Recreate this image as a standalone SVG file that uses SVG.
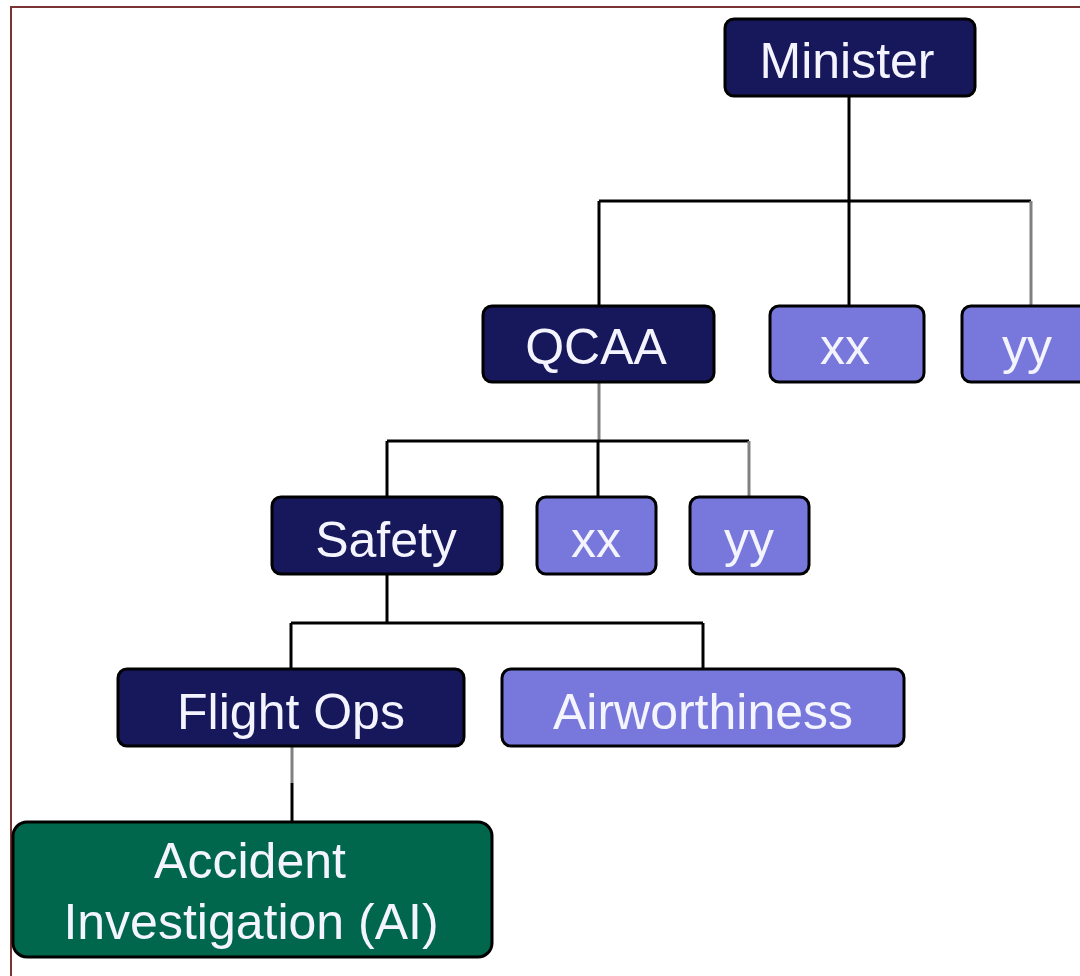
<svg xmlns="http://www.w3.org/2000/svg" width="1080" height="976" viewBox="0 0 1080 976">
  <style>
    .box { stroke: #000; stroke-width: 3; }
    .dark { fill: #17175b; }
    .light { fill: #7878dc; }
    .green { fill: #00674c; }
    .lbl { font-family: "Liberation Sans", Arial, sans-serif; font-size: 50px; fill: #f4f4ff; text-anchor: middle; }
    .wire { stroke: #000; stroke-width: 3; fill: none; }
    .grey { stroke: #808080; stroke-width: 3; fill: none; }
  </style>
  <rect width="1080" height="976" fill="#fff"/>
  <!-- outer frame -->
  <path d="M11 976 V7 H1080" fill="none" stroke="#7a3434" stroke-width="2"/>

  <g id="connectors">
    <path class="wire" d="M849 96 V201 M599 201 H1031 M599 201 V306 M849 201 V306"/>
    <path class="grey" d="M1031 201 V306"/>
    <path class="grey" d="M599 382 V441"/>
    <path class="wire" d="M387 441 H749 M387 441 V497 M598 441 V497"/>
    <path class="grey" d="M749 441 V497"/>
    <path class="wire" d="M387 574 V623 M291 623 H703 M291 623 V669 M703 623 V669"/>
    <path class="grey" d="M292 746 V783"/>
    <path class="wire" d="M292 783 V822"/>
  </g>

  <g id="minister">
    <rect class="box dark" x="725" y="19" width="250" height="77" rx="9"/>
    <text class="lbl" x="847" y="78">Minister</text>
  </g>
  <g id="qcaa">
    <rect class="box dark" x="483" y="306" width="231" height="76" rx="9"/>
    <text class="lbl" x="596" y="364">QCAA</text>
  </g>
  <g id="xx1">
    <rect class="box light" x="770" y="306" width="154" height="76" rx="9"/>
    <text class="lbl" x="845" y="364">xx</text>
  </g>
  <g id="yy1">
    <rect class="box light" x="962" y="306" width="140" height="76" rx="9"/>
    <text class="lbl" x="1027" y="364">yy</text>
  </g>
  <g id="safety">
    <rect class="box dark" x="272" y="497" width="230" height="77" rx="9"/>
    <text class="lbl" x="386" y="557">Safety</text>
  </g>
  <g id="xx2">
    <rect class="box light" x="537" y="497" width="119" height="77" rx="9"/>
    <text class="lbl" x="596" y="557">xx</text>
  </g>
  <g id="yy2">
    <rect class="box light" x="690" y="497" width="119" height="77" rx="9"/>
    <text class="lbl" x="749" y="557">yy</text>
  </g>
  <g id="flight-ops">
    <rect class="box dark" x="118" y="669" width="346" height="77" rx="9"/>
    <text class="lbl" x="291" y="729">Flight Ops</text>
  </g>
  <g id="airworthiness">
    <rect class="box light" x="502" y="669" width="402" height="77" rx="9"/>
    <text class="lbl" x="703" y="729">Airworthiness</text>
  </g>
  <g id="accident-investigation">
    <rect class="box green" x="13" y="822" width="479" height="135" rx="14"/>
    <text class="lbl" x="250" y="878">Accident</text>
    <text class="lbl" x="251" y="939">Investigation (AI)</text>
  </g>
</svg>
